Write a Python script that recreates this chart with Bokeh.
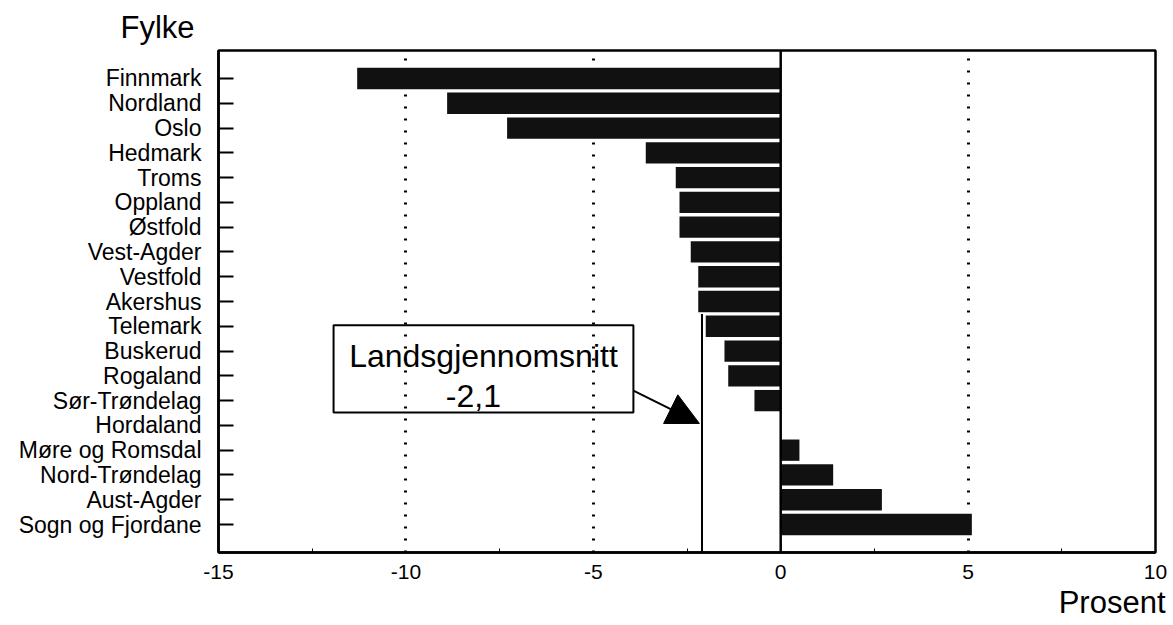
from bokeh.plotting import figure
from bokeh.models import (FactorRange, Range1d, FixedTicker, BoxAnnotation, Label,
                          Arrow, NormalHead, Span, Title)
from bokeh.embed import file_html
from bokeh.resources import INLINE

# ---- data ----
fylker = ["Finnmark", "Nordland", "Oslo", "Hedmark", "Troms", "Oppland", "Østfold",
          "Vest-Agder", "Vestfold", "Akershus", "Telemark", "Buskerud", "Rogaland",
          "Sør-Trøndelag", "Hordaland", "Møre og Romsdal", "Nord-Trøndelag",
          "Aust-Agder", "Sogn og Fjordane"]
endring = [-11.3, -8.9, -7.3, -3.6, -2.8, -2.7, -2.7, -2.4, -2.2, -2.2, -2.0,
           -1.5, -1.4, -0.7, 0.0, 0.5, 1.4, 2.7, 5.1]
x_ticks = [-15, -10, -5, 0, 5, 10]
x_tick_labels = ["-15", "-10", "-5", "0", "5", "10"]
x_minor = [-12.5, -7.5, -2.5, 2.5, 7.5]
grid_ticks = [-10, -5, 5]
landsgjennomsnitt = -2.1
snitt_tekst = ["Landsgjennomsnitt", "-2,1"]

FONT = "Liberation Sans"
PAD = 0.63
factors = fylker[::-1]

p = figure(width=1170, height=625, output_backend="svg", toolbar_location=None,
           x_range=Range1d(-15, 10),
           y_range=FactorRange(factors=factors, range_padding=PAD,
                               range_padding_units="absolute"),
           min_border_left=218, min_border_right=15, min_border_top=50,
           min_border_bottom=73)
p.background_fill_color = "white"
p.border_fill_color = "white"
p.outline_line_color = "black"
p.outline_line_width = 2.5
p.outline_line_alpha = 1

# grid
p.ygrid.grid_line_color = None
p.xgrid.ticker = FixedTicker(ticks=grid_ticks)
p.xgrid.grid_line_color = "black"
p.xgrid.grid_line_alpha = 1
p.xgrid.grid_line_width = 3
p.xgrid.grid_line_dash = "2 10"

# bars
p.hbar(y=fylker, right=endring, left=0, height=0.86,
       fill_color="#111111", line_color=None)

# zero line
p.add_layout(Span(location=0, dimension="height", line_color="black", line_width=2.5))

# average line, from the Telemark row down
tele_top = factors.index("Telemark") + 1.0
p.segment(x0=[landsgjennomsnitt], x1=[landsgjennomsnitt], y0=[tele_top], y1=[-PAD - 1],
          line_color="black", line_width=2)

# annotation box
p.add_layout(BoxAnnotation(left=-11.93, right=-3.93, top=8.54, bottom=5.02,
                           fill_alpha=0, line_color="black", line_alpha=1,
                           line_width=2))
p.add_layout(Label(x=-7.93, y=7.31, text=snitt_tekst[0], text_align="center",
                   text_baseline="middle", text_font=FONT, text_font_size="32px",
                   text_color="black"))
p.add_layout(Label(x=-8.2, y=5.7, text=snitt_tekst[1], text_align="center",
                   text_baseline="middle", text_font=FONT, text_font_size="32px",
                   text_color="black"))
p.add_layout(Arrow(end=NormalHead(size=32, fill_color="black", line_color="black"),
                   x_start=-3.93, y_start=5.9, x_end=landsgjennomsnitt - 0.07, y_end=4.58,
                   line_color="black", line_width=2))

# axis titles
p.add_layout(Title(text="Fylke", align="left", offset=-98, standoff=12,
                   text_font=FONT, text_font_size="31px", text_font_style="normal",
                   text_color="black"), "above")
p.add_layout(Title(text="Prosent", align="right", offset=-10, standoff=2,
                   text_font=FONT, text_font_size="31px", text_font_style="normal",
                   text_color="black"), "below")

# axes
p.yaxis.major_label_text_font = FONT
p.yaxis.major_label_text_font_size = "23px"
p.yaxis.major_label_text_color = "black"
p.yaxis.major_tick_in = 15
p.yaxis.major_tick_out = 0
p.yaxis.major_tick_line_width = 2
p.yaxis.axis_line_width = 2.5
p.yaxis.major_label_standoff = 17

p.xaxis.ticker = FixedTicker(ticks=x_ticks, minor_ticks=x_minor)
p.xaxis.major_label_overrides = dict(zip(x_ticks, x_tick_labels))
p.xaxis.major_label_text_font = FONT
p.xaxis.major_label_text_font_size = "21px"
p.xaxis.major_label_text_color = "black"
p.xaxis.major_tick_in = 0
p.xaxis.major_tick_out = 0
p.xaxis.minor_tick_in = 4
p.xaxis.minor_tick_out = 0
p.xaxis.axis_line_width = 2.5
p.xaxis.major_label_standoff = 12

open("out.html", "w").write(file_html(p, INLINE))
